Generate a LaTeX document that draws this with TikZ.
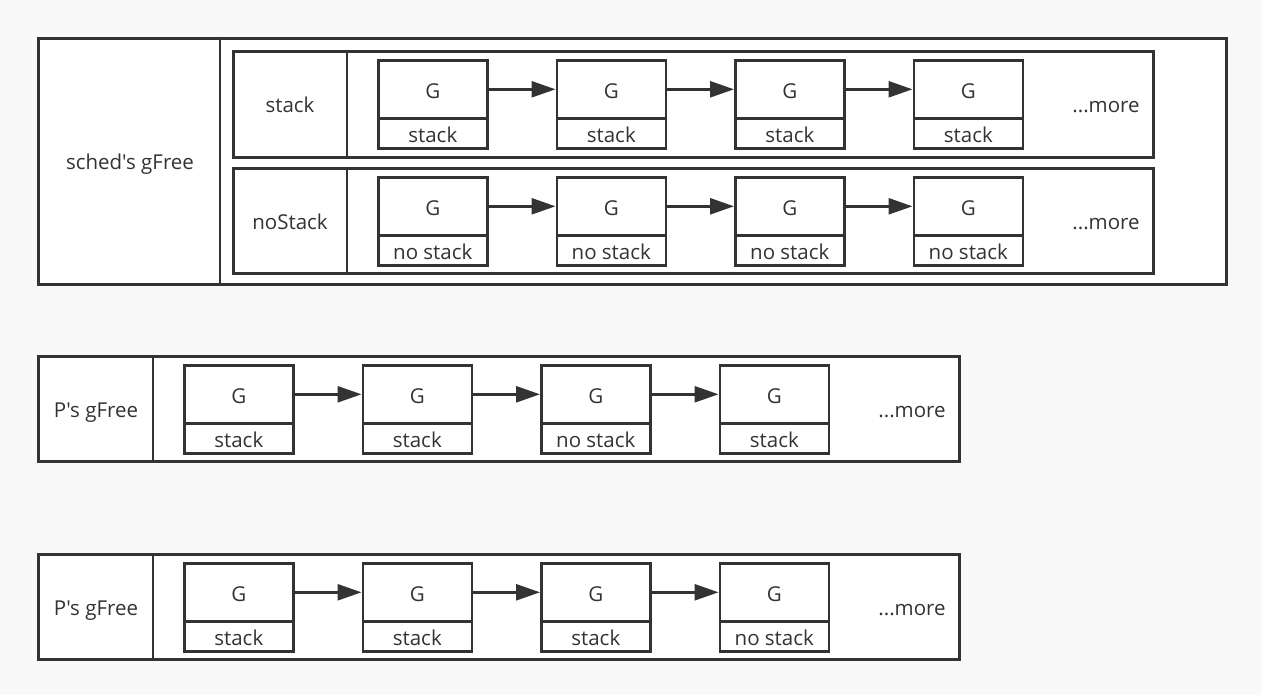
\documentclass[tikz,border=0pt]{standalone}
\usepackage{fontspec}
\newfontfamily\lblfont{Open Sans}
\usetikzlibrary{arrows.meta}
\definecolor{lc}{HTML}{333333}
\definecolor{bg}{HTML}{F9F9F9}
\tikzset{
  txt/.style={text=lc, font=\lblfont\fontsize{20.5}{24}\selectfont, text height=19pt, text depth=0pt},
  frame/.style={draw=lc, line width=2.6pt, fill=white, inner sep=0pt, anchor=north west},
  lbl/.style={txt, inner sep=0pt},
  gtop/.style={txt, draw=lc, line width=2.6pt, fill=white, minimum width=109pt, minimum height=58pt, inner sep=0pt, anchor=north west},
  gbot/.style={txt, draw=lc, line width=2.6pt, fill=white, minimum width=109pt, minimum height=30pt, inner sep=0pt, anchor=north west},
  link/.style={draw=lc, line width=2.6pt, -{Triangle[length=24pt,width=16pt]}},
  divider/.style={draw=lc, line width=2.6pt}
}
\begin{document}
\begin{tikzpicture}[x=1pt,y=-1pt]
\fill[bg] (0,0) rectangle (1262,695);
\useasboundingbox (0,0) rectangle (1262,695);
% ---------- sched's gFree ----------
\node[frame, minimum width=1188pt, minimum height=246pt] (sched) at (37,37) {};
\draw[divider] (220,37) -- (220,283);
\node[lbl] (schedlbl) at (130,160) {sched's gFree};
\node[frame, minimum width=920pt, minimum height=106pt] (rowA) at (232,50) {};
\draw[divider] (347,50) -- (347,156);
\node[lbl] (rowAlbl) at (290,103) {stack};
\node[lbl] (rowAmore) at (1106,103) {...more};
\node[frame, minimum width=920pt, minimum height=105pt] (rowB) at (232,167) {};
\draw[divider] (347,167) -- (347,272);
\node[lbl] (rowBlbl) at (290,220) {noStack};
\node[lbl] (rowBmore) at (1106,220) {...more};
\foreach \i in {1,...,4} {
  \pgfmathsetmacro\xl{377+(\i-1)*178.5}
  \node[gtop] (a\i) at (\xl,59) {G};
  \node[gbot] (ab\i) at (\xl,117) {stack};
  \node[gtop] (b\i) at (\xl,176) {G};
  \node[gbot] (bb\i) at (\xl,234) {no stack};
}
\foreach \i [evaluate=\i as \j using int(\i+1)] in {1,2,3} {
  \draw[link] (a\i.east) -- (a\j.west);
  \draw[link] (b\i.east) -- (b\j.west);
}
% ---------- P's gFree (1) ----------
\node[frame, minimum width=921pt, minimum height=105pt] (pone) at (37,355) {};
\draw[divider] (153,355) -- (153,460);
\node[lbl] (ponelbl) at (96,408) {P's gFree};
\node[lbl] (ponemore) at (912,408) {...more};
\foreach \i/\t in {1/stack,2/stack,3/no stack,4/stack} {
  \pgfmathsetmacro\xl{183+(\i-1)*178.5}
  \node[gtop] (c\i) at (\xl,364) {G};
  \node[gbot] (cb\i) at (\xl,422) {\t};
}
% ---------- P's gFree (2) ----------
\node[frame, minimum width=921pt, minimum height=105pt] (ptwo) at (37,553) {};
\draw[divider] (153,553) -- (153,658);
\node[lbl] (ptwolbl) at (96,606) {P's gFree};
\node[lbl] (ptwomore) at (912,606) {...more};
\foreach \i/\t in {1/stack,2/stack,3/stack,4/no stack} {
  \pgfmathsetmacro\xl{183+(\i-1)*178.5}
  \node[gtop] (d\i) at (\xl,562) {G};
  \node[gbot] (db\i) at (\xl,620) {\t};
}
\foreach \i [evaluate=\i as \j using int(\i+1)] in {1,2,3} {
  \draw[link] (c\i.east) -- (c\j.west);
  \draw[link] (d\i.east) -- (d\j.west);
}
\end{tikzpicture}
\end{document}
